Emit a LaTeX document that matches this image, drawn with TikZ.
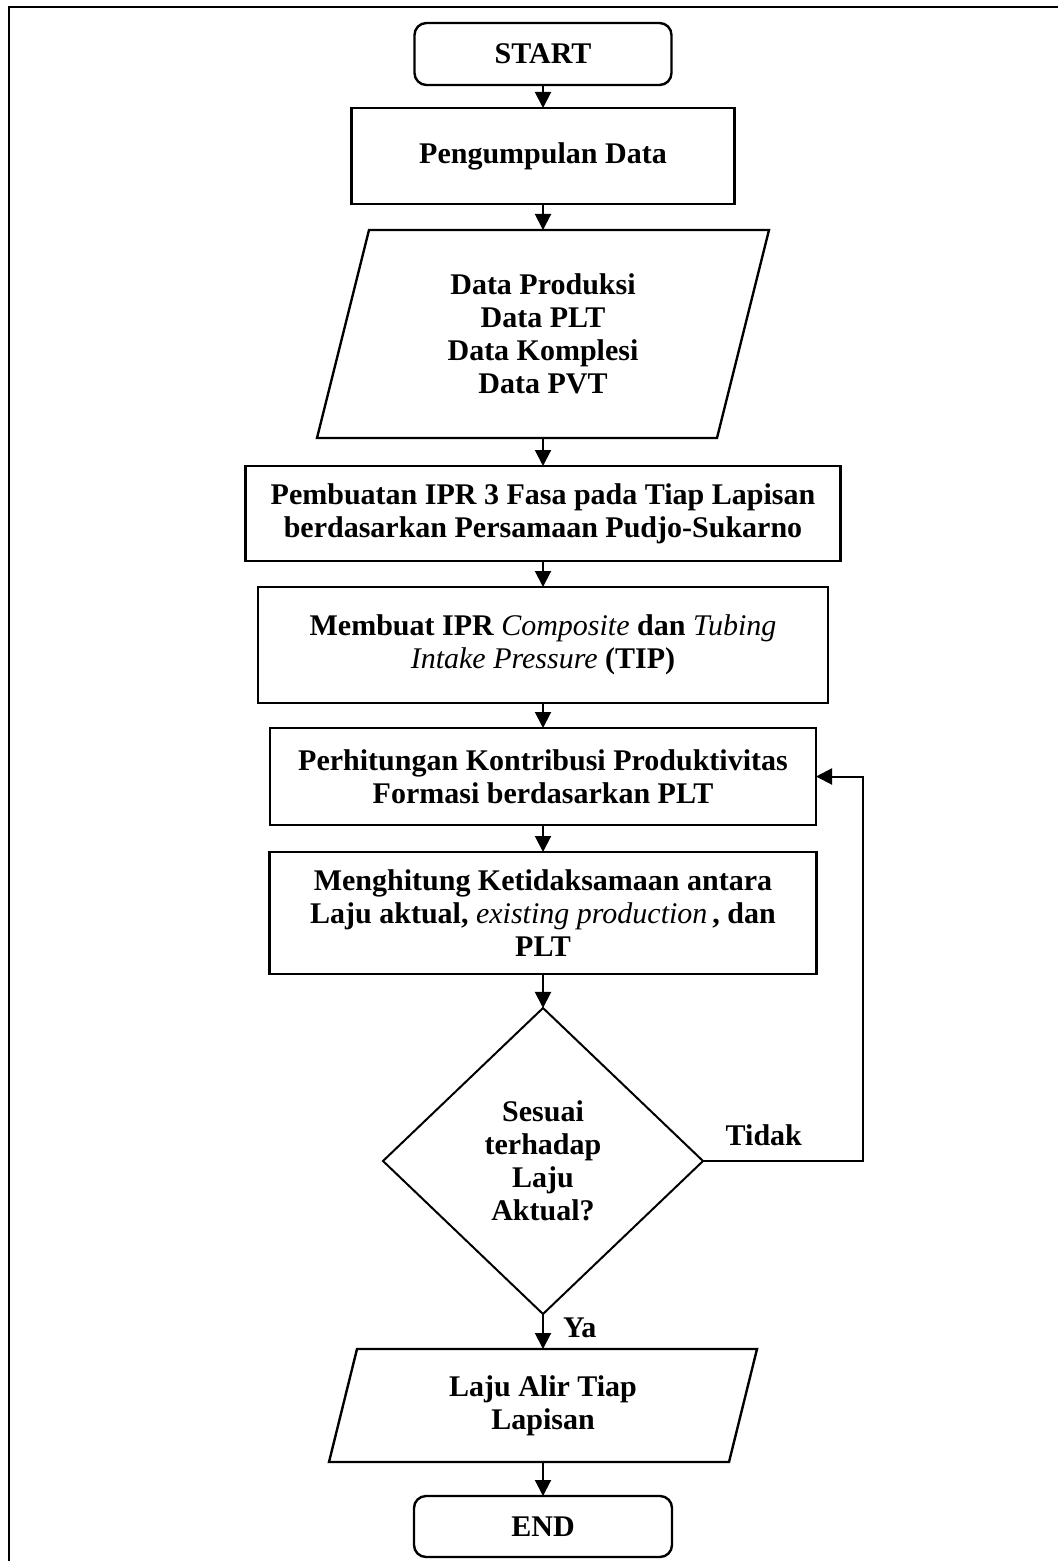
\documentclass[tikz,border=0pt]{standalone}
\usepackage{fontspec}
\setmainfont{Liberation Serif}
\usepackage{tikz}
\usetikzlibrary{positioning,arrows.meta,shapes.geometric}
\newcommand{\fs}{\fontsize{15}{16.5}\selectfont}
\newcommand{\ital}[1]{{\mdseries\itshape #1}}
\tikzset{
  pbox/.style ={rectangle, draw=black, line width=1.2pt, align=center, inner sep=2pt,
                outer sep=0pt, font=\fs\bfseries},
  term/.style ={pbox, rounded corners=6pt},
  iobox/.style={pbox, draw=none},
  cond/.style ={pbox, diamond, aspect=1, inner sep=0pt, line width=1pt},
  arr/.style  ={-{Triangle[length=8pt, width=8pt]}, line width=1pt},
  lbl/.style  ={font=\fs\bfseries, inner sep=2pt},
}
% slanted outline round an io node
\newcommand{\slantbox}[2]{%
  \draw[line width=1.2pt] ([xshift=#2]#1.north west) -- ([xshift=#2]#1.north east)
    -- ([xshift=-#2]#1.south east) -- ([xshift=-#2]#1.south west) -- cycle;}

\begin{document}
\begin{tikzpicture}[x=0.5pt, y=-0.5pt]
  \useasboundingbox (0,0) rectangle (1058,1561);
  \draw[line width=1.4pt] (1058,7) -- (9,7) -- (9,1561);

  \node[term, minimum width=128.5pt, minimum height=31pt] (start) at (543,54) {START};
  \node[pbox, minimum width=191.5pt, minimum height=48pt, below=11.5pt of start] (kumpul) {Pengumpulan Data};
  \node[iobox, minimum width=200pt, minimum height=104pt, below=13pt of kumpul] (data)
    {Data Produksi\\Data PLT\\Data Komplesi\\Data PVT};
  \node[pbox, minimum width=297.5pt, minimum height=47.5pt, below=14pt of data] (ipr)
    {Pembuatan IPR 3 Fasa pada Tiap Lapisan\\berdasarkan Persamaan Pudjo-Sukarno};
  \node[pbox, minimum width=285pt, minimum height=58pt, below=13pt of ipr] (tip)
    {Membuat IPR \ital{Composite} dan \ital{Tubing}\\\ital{Intake Pressure} (TIP)};
  \node[pbox, minimum width=273pt, minimum height=48.5pt, below=12.5pt of tip] (kontri)
    {Perhitungan Kontribusi Produktivitas\\Formasi berdasarkan PLT};
  \node[pbox, minimum width=273.5pt, minimum height=61pt, below=13.5pt of kontri] (beda)
    {Menghitung Ketidaksamaan antara\\Laju aktual, \ital{existing production}\,, dan\\PLT};
  \node[cond, minimum width=160pt, minimum height=153pt, below=17pt of beda] (cek)
    {Sesuai\\terhadap\\Laju\\Aktual?};
  \node[iobox, minimum width=200pt, minimum height=56.5pt, below=17.5pt of cek] (laju)
    {Laju Alir Tiap\\Lapisan};
  \node[term, minimum width=129pt, minimum height=30.5pt, below=17pt of laju] (stop) {END};
  \slantbox{data}{13pt}
  \slantbox{laju}{7pt}

  \draw[arr] (start) -- (kumpul);
  \draw[arr] (kumpul) -- (data);
  \draw[arr] (data) -- (ipr);
  \draw[arr] (ipr) -- (tip);
  \draw[arr] (tip) -- (kontri);
  \draw[arr] (kontri) -- (beda);
  \draw[arr] (beda) -- (cek);
  \draw[arr] (cek) -- node[lbl, right=7.5pt, pos=0.4] {Ya} (laju);
  \draw[arr] (cek.east) -- node[lbl, above=5pt, pos=0.38] {Tidak} ++(80pt,0) |- (kontri.east);
  \draw[arr] (laju) -- (stop);
\end{tikzpicture}
\end{document}
